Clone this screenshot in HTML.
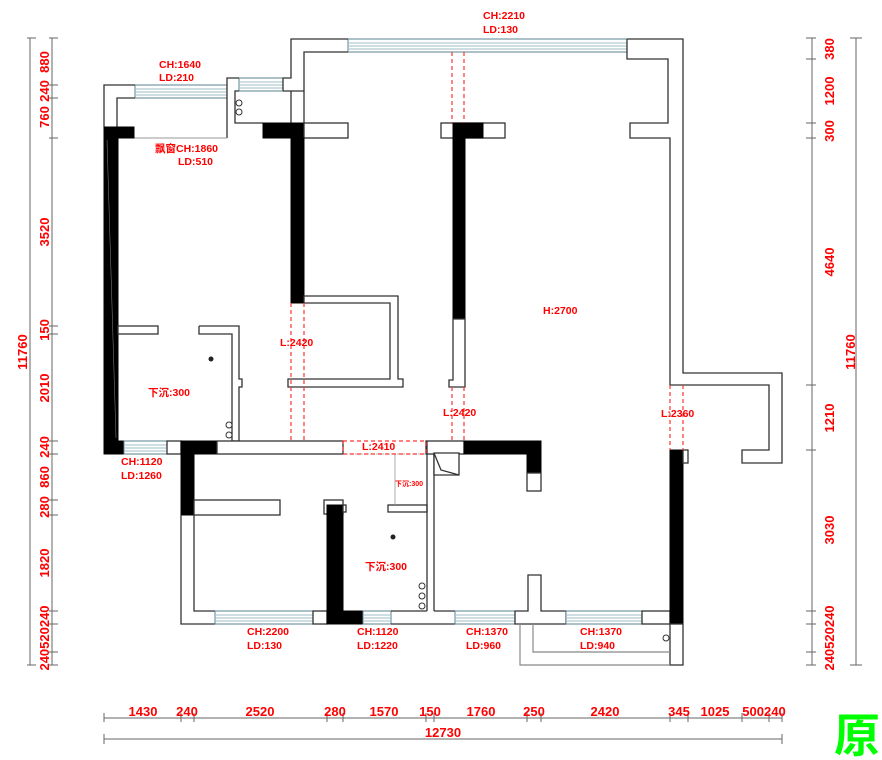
<!DOCTYPE html>
<html><head><meta charset="utf-8"><style>
html,body{margin:0;padding:0;background:#fff;}
svg{display:block}
.w{fill:#fff;stroke:#333;stroke-width:1.3}
.b{fill:#000;stroke:#000;stroke-width:1}
.l{fill:none;stroke:#333;stroke-width:1.3}
.d{fill:none;stroke:#f33;stroke-width:1.2;stroke-dasharray:4 3}
.dim{fill:none;stroke:#666;stroke-width:1}
.t{fill:#f00;font-family:"Liberation Sans","Noto Sans CJK SC",sans-serif;font-weight:bold;font-size:10.5px}
.n{fill:#f00;font-family:"Liberation Sans",sans-serif;font-weight:bold;font-size:13px}
.win{fill:#fff;stroke:#5a8090;stroke-width:1}
.wl{stroke:#9dbcc6;stroke-width:1}
</style></head><body>
<svg width="882" height="760" viewBox="0 0 882 760" xmlns="http://www.w3.org/2000/svg">
<!-- top windows -->
<g>
<rect class="win" x="348" y="39" width="279" height="13"/>
<line class="wl" x1="348" y1="43" x2="627" y2="43"/><line class="wl" x1="348" y1="46" x2="627" y2="46"/><line class="wl" x1="348" y1="49" x2="627" y2="49"/>
<rect class="win" x="135" y="85" width="92" height="13"/>
<line class="wl" x1="135" y1="89" x2="227" y2="89"/><line class="wl" x1="135" y1="92" x2="227" y2="92"/><line class="wl" x1="135" y1="95" x2="227" y2="95"/>
<rect class="win" x="239" y="78" width="44" height="13"/>
<line class="wl" x1="239" y1="82" x2="283" y2="82"/><line class="wl" x1="239" y1="85" x2="283" y2="85"/><line class="wl" x1="239" y1="88" x2="283" y2="88"/>
</g>
<!-- top-left structure -->
<polyline class="l" points="283,91 283,78 291,78 291,39 348,39"/>
<polyline class="l" points="283,91 304,91 304,52 348,52"/>
<line class="l" x1="291" y1="91" x2="291" y2="123"/><line class="l" x1="304" y1="91" x2="304" y2="123"/>
<polyline class="l" points="227,138 227,78 239,78"/>
<polyline class="l" points="239,91 235,91 235,117 235,123 263,123"/>
<circle cx="239" cy="103" r="3" fill="#fff" stroke="#333"/><circle cx="239" cy="112" r="3" fill="#fff" stroke="#333"/>
<polyline class="l" points="135,85 104,85 104,127"/>
<polyline class="l" points="135,98 117,98 117,127"/>
<line x1="134" y1="138" x2="227" y2="138" stroke="#999" stroke-width="1"/>
<rect class="b" x="104" y="127" width="30" height="11"/>
<rect class="b" x="263" y="123" width="41" height="15"/>
<rect class="w" x="304" y="123" width="44" height="15"/>
<!-- right outer -->
<polyline class="l" points="627,39 683,39 683,373 782,373 782,463 742,463 742,450 769,450 769,385 670,385 670,138 630,138 630,123 668,123 668,59 627,59 627,39"/>
<!-- middle T -->
<rect class="w" x="441" y="123" width="64" height="15"/>
<rect class="b" x="453" y="123" width="30" height="15"/>
<rect class="b" x="453" y="138" width="12" height="181"/>
<polyline class="w" points="453,319 465,319 465,387 449,387 449,380 453,380 453,319"/>
<!-- left black wall -->
<rect class="b" x="104" y="138" width="14" height="303"/>
<line x1="107" y1="140" x2="116" y2="438" stroke="#777" stroke-width="0.6"/>
<!-- middle black wall -->
<rect class="b" x="291" y="138" width="13" height="165"/>
<!-- room box -->
<polygon class="w" points="304,296 398,296 398,379 403,379 403,387 288,387 288,379 390,379 390,303 304,303"/>
<!-- left bedroom inner walls -->
<rect class="w" x="118" y="326" width="40" height="8"/>
<polyline class="w" points="199,326 239,326 239,379 242,379 242,387 239,387 239,441 232,441 232,334 199,334 199,326"/>
<circle cx="211" cy="359" r="2.5" fill="#222"/>
<circle cx="229" cy="425" r="3" fill="#fff" stroke="#333"/><circle cx="229" cy="435" r="3" fill="#fff" stroke="#333"/>
<!-- horizontal wall y441-454 -->
<rect class="b" x="104" y="441" width="20" height="13"/>
<rect class="win" x="124" y="441" width="43" height="13"/>
<line class="wl" x1="124" y1="445" x2="167" y2="445"/><line class="wl" x1="124" y1="448" x2="167" y2="448"/><line class="wl" x1="124" y1="451" x2="167" y2="451"/>
<rect class="w" x="167" y="441" width="14" height="13"/>
<rect class="b" x="181" y="441" width="36" height="13"/>
<rect class="w" x="217" y="441" width="126" height="13"/>
<rect class="w" x="426" y="441" width="38" height="13"/>
<polygon class="b" points="464,441 541,441 541,491 527,491 527,454 464,454"/>
<rect class="w" x="527" y="473" width="14" height="18"/>
<!-- lower left -->
<rect class="b" x="181" y="454" width="13" height="61"/>
<polyline class="l" points="181,515 181,624 215,624"/>
<polyline class="l" points="194,515 194,611 215,611"/>
<rect class="w" x="194" y="500" width="86" height="15"/>
<rect class="win" x="215" y="611" width="98" height="13"/>
<line class="wl" x1="215" y1="615" x2="313" y2="615"/><line class="wl" x1="215" y1="618" x2="313" y2="618"/><line class="wl" x1="215" y1="621" x2="313" y2="621"/>
<rect class="w" x="313" y="611" width="14" height="13"/>
<rect class="b" x="327" y="611" width="36" height="13"/>
<rect class="win" x="363" y="611" width="28" height="13"/>
<line class="wl" x1="363" y1="615" x2="391" y2="615"/><line class="wl" x1="363" y1="618" x2="391" y2="618"/><line class="wl" x1="363" y1="621" x2="391" y2="621"/>
<rect class="w" x="324" y="500" width="19" height="14"/>
<rect class="b" x="327" y="505" width="16" height="106"/>
<rect class="w" x="343" y="505" width="3" height="7"/>
<!-- bathroom -->
<rect class="w" x="388" y="505" width="39" height="7"/>
<line x1="395" y1="454" x2="395" y2="505" stroke="#999" stroke-width="0.8"/>
<line x1="343" y1="454" x2="426" y2="454" stroke="#999" stroke-width="0.8" stroke-dasharray="2 1"/>
<polyline class="l" points="427,441 427,611"/>
<polyline class="l" points="391,611 427,611"/><polyline class="l" points="391,624 455,624"/>
<line class="l" x1="434" y1="453" x2="434" y2="611"/>
<polyline class="l" points="434,611 455,611"/>
<circle cx="393" cy="537" r="2.5" fill="#222"/>
<circle cx="422" cy="586" r="3" fill="#fff" stroke="#333"/><circle cx="422" cy="596" r="3" fill="#fff" stroke="#333"/><circle cx="422" cy="606" r="3" fill="#fff" stroke="#333"/>
<polygon class="w" points="434,453 459,453 459,475 434,475"/>
<polyline class="l" points="434,453 441,470 459,475"/>
<!-- kitchen bottom -->
<rect class="win" x="455" y="611" width="60" height="13"/>
<line class="wl" x1="455" y1="615" x2="515" y2="615"/><line class="wl" x1="455" y1="618" x2="515" y2="618"/><line class="wl" x1="455" y1="621" x2="515" y2="621"/>
<polygon class="w" points="515,611 528,611 528,575 541,575 541,611 566,611 566,624 515,624"/>
<rect class="win" x="566" y="611" width="76" height="13"/>
<line class="wl" x1="566" y1="615" x2="642" y2="615"/><line class="wl" x1="566" y1="618" x2="642" y2="618"/><line class="wl" x1="566" y1="621" x2="642" y2="621"/>
<rect class="w" x="642" y="611" width="28" height="13"/>
<rect class="b" x="670" y="450" width="13" height="174"/>
<rect class="w" x="683" y="450" width="5" height="13"/>
<rect class="w" x="670" y="624" width="13" height="41"/>
<polyline points="520,624 520,665 670,665" fill="none" stroke="#888" stroke-width="1.2"/>
<polyline points="533,624 533,652 670,652" fill="none" stroke="#888" stroke-width="1.2"/>
<circle cx="666" cy="638" r="3" fill="#fff" stroke="#333"/>
<!-- red dashed -->
<line class="d" x1="291" y1="303" x2="291" y2="441"/><line class="d" x1="304" y1="303" x2="304" y2="441"/>
<line class="d" x1="452" y1="52" x2="452" y2="123"/><line class="d" x1="464" y1="52" x2="464" y2="123"/>
<line class="d" x1="452" y1="387" x2="452" y2="441"/><line class="d" x1="464" y1="387" x2="464" y2="441"/>
<line class="d" x1="670" y1="385" x2="670" y2="450"/><line class="d" x1="683" y1="385" x2="683" y2="450"/>
<rect class="d" x="343" y="441" width="83" height="13"/>
<!-- labels -->
<text class="t" x="483" y="19">CH:2210</text><text class="t" x="483" y="33">LD:130</text>
<text class="t" x="159" y="68">CH:1640</text><text class="t" x="159" y="81">LD:210</text>
<text class="t" x="155" y="152">飘窗CH:1860</text><text class="t" x="178" y="165">LD:510</text>
<text class="t" x="543" y="314">H:2700</text>
<text class="t" x="280" y="346">L:2420</text>
<text class="t" x="148" y="396">下沉:300</text>
<text class="t" x="443" y="416">L:2420</text>
<text class="t" x="661" y="417">L:2360</text>
<text class="t" x="362" y="450">L:2410</text>
<text class="t" x="395" y="486" style="font-size:7px">下沉:300</text>
<text class="t" x="121" y="465">CH:1120</text><text class="t" x="121" y="479">LD:1260</text>
<text class="t" x="365" y="570">下沉:300</text>
<text class="t" x="247" y="635">CH:2200</text><text class="t" x="247" y="649">LD:130</text>
<text class="t" x="357" y="635">CH:1120</text><text class="t" x="357" y="649">LD:1220</text>
<text class="t" x="466" y="635">CH:1370</text><text class="t" x="466" y="649">LD:960</text>
<text class="t" x="580" y="635">CH:1370</text><text class="t" x="580" y="649">LD:940</text>
<!-- left dims -->
<line class="dim" x1="30" y1="38" x2="30" y2="235"/><line class="dim" x1="30" y1="235" x2="30" y2="665"/>
<line class="dim" x1="27" y1="38" x2="36" y2="38"/><line class="dim" x1="27" y1="665" x2="36" y2="665"/>
<line class="dim" x1="52" y1="38" x2="52" y2="665"/>
<g class="dim">
<line x1="49" y1="38" x2="58" y2="38"/><line x1="49" y1="85" x2="58" y2="85"/><line x1="49" y1="98" x2="58" y2="98"/><line x1="49" y1="138" x2="58" y2="138"/><line x1="49" y1="326" x2="58" y2="326"/><line x1="49" y1="334" x2="58" y2="334"/><line x1="49" y1="441" x2="58" y2="441"/><line x1="49" y1="454" x2="58" y2="454"/><line x1="49" y1="500" x2="58" y2="500"/><line x1="49" y1="515" x2="58" y2="515"/><line x1="49" y1="611" x2="58" y2="611"/><line x1="49" y1="624" x2="58" y2="624"/><line x1="49" y1="652" x2="58" y2="652"/><line x1="49" y1="665" x2="58" y2="665"/>
</g>
<g class="n" text-anchor="middle">
<text transform="translate(49,62) rotate(-90)">880</text>
<text transform="translate(49,91) rotate(-90)">240</text>
<text transform="translate(49,117) rotate(-90)">760</text>
<text transform="translate(49,232) rotate(-90)">3520</text>
<text transform="translate(49,330) rotate(-90)">150</text>
<text transform="translate(49,388) rotate(-90)">2010</text>
<text transform="translate(49,447) rotate(-90)">240</text>
<text transform="translate(49,477) rotate(-90)">860</text>
<text transform="translate(49,507) rotate(-90)">280</text>
<text transform="translate(49,563) rotate(-90)">1820</text>
<text transform="translate(49,638) rotate(-90)">240520240</text>
<text transform="translate(27,352) rotate(-90)">11760</text>
</g>
<!-- right dims -->
<line class="dim" x1="812" y1="38" x2="812" y2="665"/>
<line class="dim" x1="856" y1="38" x2="856" y2="665"/>
<line class="dim" x1="850" y1="38" x2="862" y2="38"/><line class="dim" x1="850" y1="665" x2="862" y2="665"/>
<g class="dim">
<line x1="806" y1="38" x2="816" y2="38"/><line x1="806" y1="59" x2="816" y2="59"/><line x1="806" y1="123" x2="816" y2="123"/><line x1="806" y1="138" x2="816" y2="138"/><line x1="806" y1="385" x2="816" y2="385"/><line x1="806" y1="450" x2="816" y2="450"/><line x1="806" y1="611" x2="816" y2="611"/><line x1="806" y1="624" x2="816" y2="624"/><line x1="806" y1="652" x2="816" y2="652"/><line x1="806" y1="665" x2="816" y2="665"/>
</g>
<g class="n" text-anchor="middle">
<text transform="translate(834,49) rotate(-90)">380</text>
<text transform="translate(834,91) rotate(-90)">1200</text>
<text transform="translate(834,131) rotate(-90)">300</text>
<text transform="translate(834,262) rotate(-90)">4640</text>
<text transform="translate(834,418) rotate(-90)">1210</text>
<text transform="translate(834,530) rotate(-90)">3030</text>
<text transform="translate(834,638) rotate(-90)">240520240</text>
<text transform="translate(855,352) rotate(-90)">11760</text>
</g>
<!-- bottom dims -->
<line class="dim" x1="104" y1="718" x2="782" y2="718"/>
<line class="dim" x1="104" y1="739" x2="782" y2="739"/>
<line class="dim" x1="104" y1="734" x2="104" y2="744"/><line class="dim" x1="782" y1="734" x2="782" y2="744"/>
<g class="dim">
<line x1="104" y1="713" x2="104" y2="722"/><line x1="181" y1="713" x2="181" y2="722"/><line x1="194" y1="713" x2="194" y2="722"/><line x1="327" y1="713" x2="327" y2="722"/><line x1="343" y1="713" x2="343" y2="722"/><line x1="426" y1="713" x2="426" y2="722"/><line x1="434" y1="713" x2="434" y2="722"/><line x1="527" y1="713" x2="527" y2="722"/><line x1="541" y1="713" x2="541" y2="722"/><line x1="670" y1="713" x2="670" y2="722"/><line x1="688" y1="713" x2="688" y2="722"/><line x1="742" y1="713" x2="742" y2="722"/><line x1="769" y1="713" x2="769" y2="722"/><line x1="782" y1="713" x2="782" y2="722"/>
</g>
<g class="n" text-anchor="middle">
<text x="143" y="716">1430</text><text x="187" y="716">240</text><text x="260" y="716">2520</text><text x="335" y="716">280</text><text x="384" y="716">1570</text><text x="430" y="716">150</text><text x="481" y="716">1760</text><text x="534" y="716">250</text><text x="605" y="716">2420</text><text x="679" y="716">345</text><text x="715" y="716">1025</text><text x="764" y="716">500240</text>
<text x="443" y="737">12730</text>
</g>
<text x="834" y="752" fill="#0f0" font-family="'Noto Sans CJK SC',sans-serif" font-size="46" font-weight="bold">原</text>
</svg>
</body></html>
